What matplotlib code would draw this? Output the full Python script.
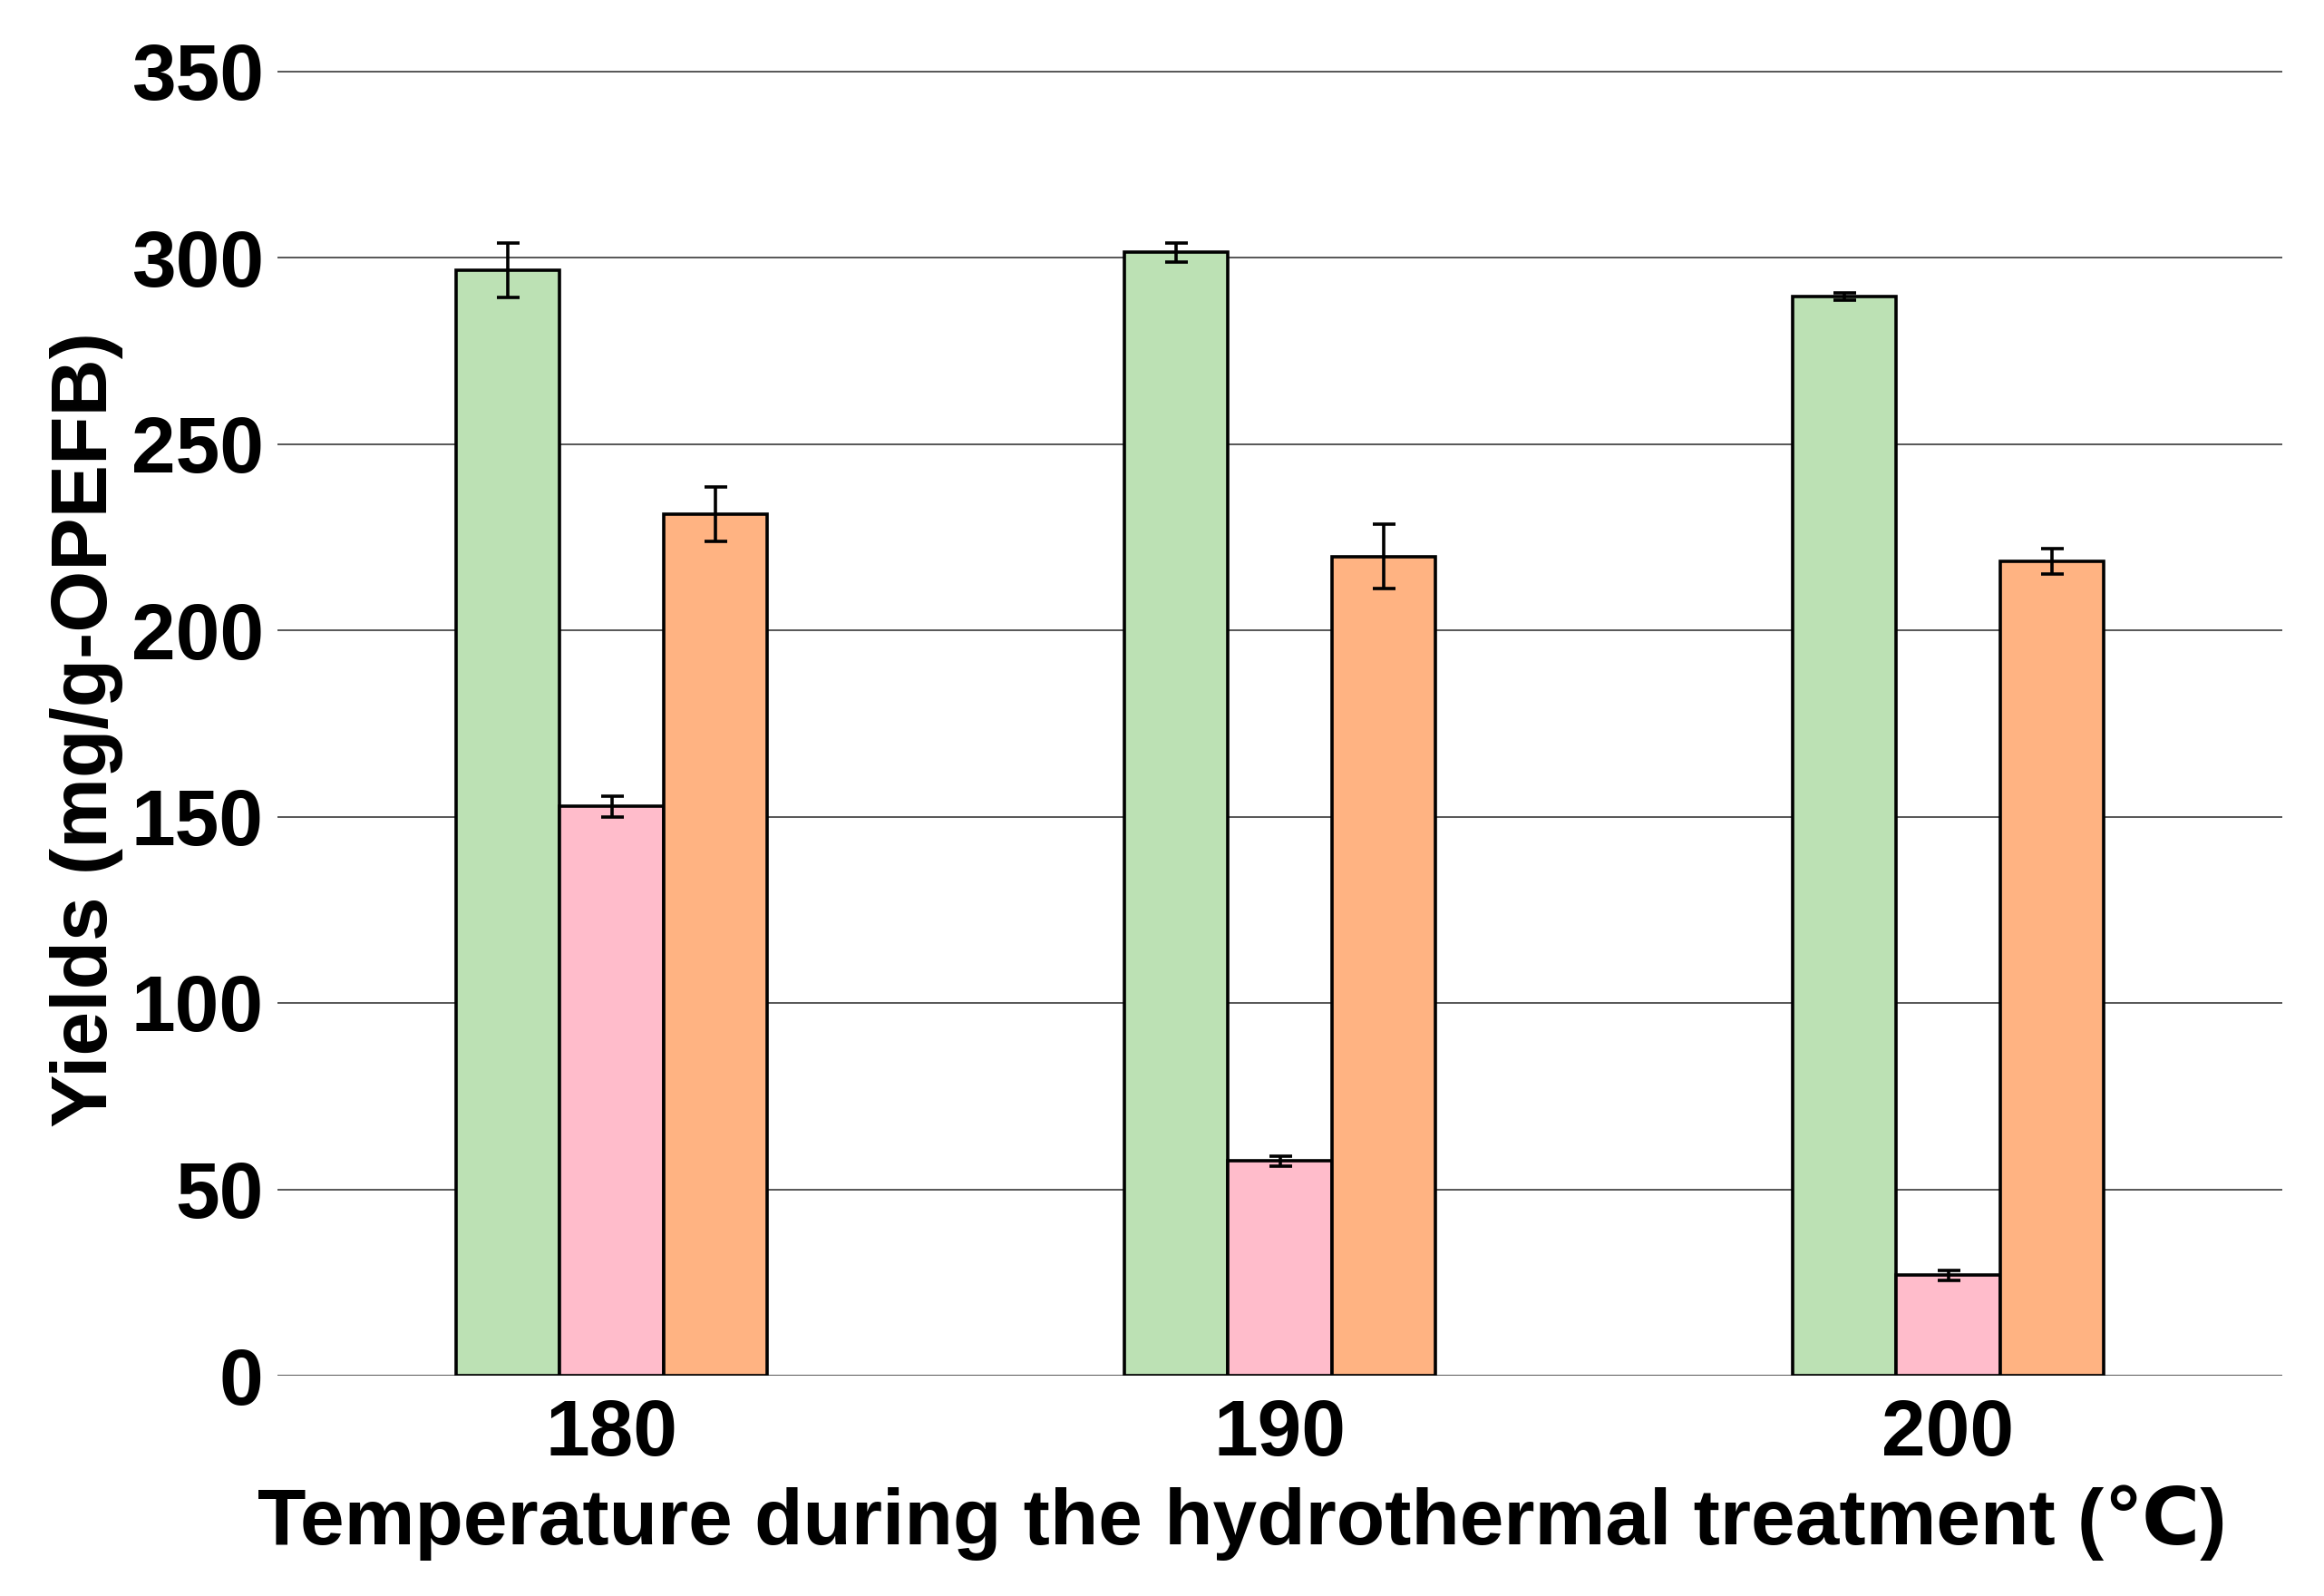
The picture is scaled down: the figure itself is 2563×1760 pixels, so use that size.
import numpy as np
import matplotlib
matplotlib.use("Agg")
import matplotlib.pyplot as plt
from matplotlib import font_manager

# Data
temps = ["180", "190", "200"]
green_vals = [296.5, 301.4, 289.6]
green_err = [7.3, 2.6, 1.0]
pink_vals = [152.7, 57.6, 26.9]
pink_err = [2.7, 1.4, 1.4]
orange_vals = [231.2, 219.8, 218.6]
orange_err = [7.3, 8.7, 3.4]

colors = ["#BCE1B4", "#FFBCCB", "#FFB382"]

# Pick a condensed bold font if it is there
names = {f.name for f in font_manager.fontManager.ttflist}
main_font = "Liberation Sans Narrow" if "Liberation Sans Narrow" in names else "Liberation Sans"
fam = [main_font, "DejaVu Sans"]

fig = plt.figure(figsize=(25.63, 17.60), dpi=100)
ax = fig.add_axes([306 / 2563, 1 - 1517 / 1760, (2517 - 306) / 2563, (1517 - 78.5) / 1760])

x = np.arange(len(temps))
w = 0.155
series = [(green_vals, green_err), (pink_vals, pink_err), (orange_vals, orange_err)]
for i, (vals, errs) in enumerate(series):
    pos = x + (i - 1) * w
    ax.bar(pos, vals, width=w, color=colors[i], edgecolor="black", linewidth=2.6, zorder=3)
    ax.errorbar(pos, vals, yerr=errs, fmt="none", ecolor="black",
                elinewidth=2.6, capsize=9, capthick=2.6, zorder=4)

ax.set_xlim(-0.5, 2.5)
ax.set_ylim(0, 350)
ax.set_yticks(np.arange(0, 351, 50))
ax.set_xticks(x)
ax.set_xticklabels(temps)
ax.yaxis.grid(True, color="#3a3a3a", linewidth=1.2, zorder=0)
ax.set_axisbelow(True)
for s in ax.spines.values():
    s.set_visible(False)
ax.tick_params(axis="both", length=0)
ax.tick_params(axis="y", pad=11)
ax.tick_params(axis="x", pad=18)

for lab in ax.get_xticklabels() + ax.get_yticklabels():
    lab.set_fontfamily(fam)
    lab.set_fontweight("bold")
    lab.set_fontsize(63)

ax.set_xlabel("Temperature during the hydrothermal treatment (\u2103)",
              fontsize=63, fontweight="bold", family=fam)
ax.xaxis.set_label_coords(0.481, -0.084)
ax.set_ylabel("Yields (mg/g-OPEFB)", fontsize=63, fontweight="bold", family=fam)
ax.yaxis.set_label_coords(-0.077, 0.495)

fig.savefig("out.png", dpi=100, facecolor="white")
